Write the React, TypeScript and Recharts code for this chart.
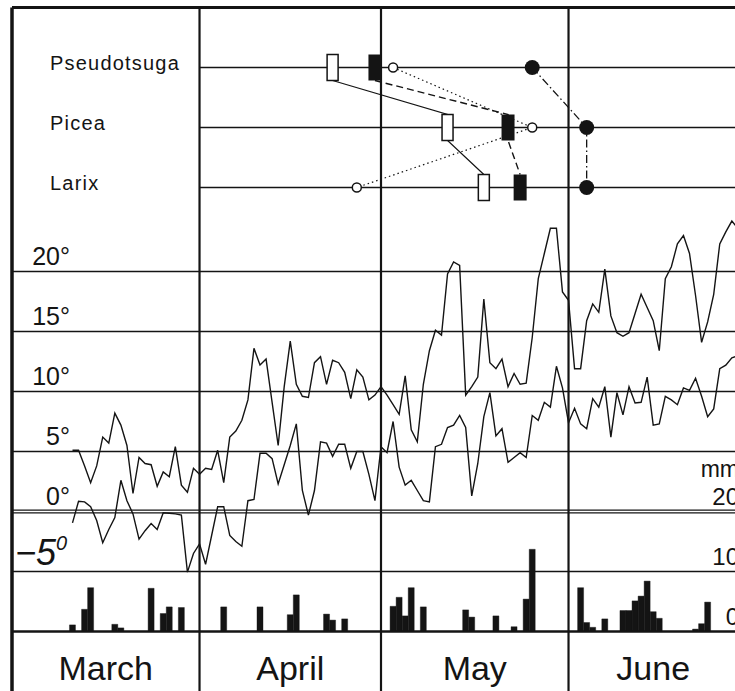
import React from 'react';
import { ComposedChart, XAxis, YAxis, Line, Bar, Scatter, ReferenceLine } from 'recharts';

const FONT = '"Liberation Sans", Arial, sans-serif';
const INK = '#141414';

// Day axis: 0 = start of 1 March, 31 = 1 April, 61 = 1 May, 92 = 1 June.
const LAST_DAY = 122;
const MONTH_NAMES = ['March', 'April', 'May', 'June'];
const MONTH_LABEL_DAYS = [15.5, 46, 76.5, 106];
const MONTH_START_DAYS = [31, 61, 92];

// Daily air temperature (°C), starting on FIRST_TEMP_DAY.
const FIRST_TEMP_DAY = 10;
const T_MAX = [
  5.1, 5.1, 3.8, 2.4, 3.8, 6.2, 5.7, 8.2, 7.2, 5.5,
  1.5, 4.5, 4.0, 3.9, 2.1, 3.3, 2.9, 5.4, 2.2, 1.6,
  3.6, 3.1, 3.6, 3.5, 5.1, 2.4, 6.2, 6.7, 7.6, 9.3,
  13.6, 12.2, 12.7, 9.1, 5.5, 10.4, 14.2, 10.6, 9.6, 9.5,
  12.4, 12.9, 10.6, 12.6, 12.4, 11.6, 9.4, 11.8, 11.2, 9.3,
  9.7, 10.4, 9.7, 8.9, 8.1, 11.3, 6.8, 5.8, 10.6, 13.4,
  15.1, 14.7, 19.8, 20.8, 20.5, 9.7, 10.4, 11.2, 17.7, 12.4,
  11.9, 12.7, 10.4, 11.5, 10.6, 10.7, 14.5, 19.4, 21.5, 23.6,
  23.6, 18.3, 17.6, 11.9, 11.9, 15.9, 17.3, 16.6, 20.2, 16.3,
  14.9, 14.6, 14.9, 16.5, 18.1, 17.0, 15.9, 13.4, 19.4, 20.4,
  22.3, 23.0, 21.5, 18.0, 14.1, 15.8, 18.1, 22.3, 23.3, 24.2,
  23.6,
];
const T_MIN = [
  -0.95, 0.85, 0.8, 0.4, -0.75, -2.6, -1.5, -0.5, 2.6, 0.9,
  -0.2, -2.3, -1.6, -1.0, -1.5, -0.1, -0.15, -0.2, -0.3, -5.05,
  -3.5, -2.7, -4.4, -2.0, 0.4, 0.4, -2.0, -2.5, -2.9, 0.9,
  1.0, 4.85, 4.85, 4.4, 2.3, 3.9, 5.5, 7.3, 1.75, -0.3,
  1.75, 5.8, 5.7, 4.6, 5.6, 5.6, 3.6, 5.0, 5.0, 3.1,
  0.9, 5.4, 4.9, 7.5, 3.7, 2.2, 2.6, 1.75, 0.9, 0.8,
  5.4, 5.6, 7.0, 7.2, 8.0, 7.0, 1.3, 4.0, 7.9, 9.9,
  6.3, 6.9, 4.1, 4.5, 4.9, 4.5, 8.0, 7.6, 9.1, 8.7,
  12.1, 10.3, 7.4, 8.6, 7.3, 6.9, 9.4, 8.7, 10.4, 6.2,
  9.9, 8.05, 10.4, 9.05, 9.1, 11.2, 7.2, 7.3, 9.6, 9.3,
  8.9, 10.3, 10.1, 11.1, 9.6, 7.9, 8.55, 11.9, 12.2, 12.8,
  13.0,
];

// Daily precipitation (mm) on the days it fell.
const RAIN_DAYS = [10, 12, 13, 17, 18, 23, 25, 26, 28, 35, 41, 46, 47, 52, 53, 55,
  63, 64, 65, 66, 68, 75, 76, 80, 83, 85, 86,
  94, 95, 96, 98, 101, 102, 103, 104, 105, 106, 107, 113, 114, 115];
const RAIN_MM = [1.1, 3.7, 7.3, 1.2, 0.6, 7.2, 3.0, 4.1, 4.0, 4.1, 4.1, 2.8, 6.1, 2.9, 1.9, 2.1,
  4.2, 5.7, 2.6, 7.3, 4.1, 3.6, 2.4, 2.6, 0.8, 5.4, 13.7,
  7.3, 1.5, 0.7, 2.1, 3.5, 3.5, 5.1, 5.9, 8.4, 3.3, 2.2, 0.4, 1.3, 4.9];

const TEMP_TICKS = [-5, 0, 5, 10, 15, 20];
const RAIN_TICKS = [0, 10, 20];

// Phenology rows (0 = bottom row) and the day each stage was reached.
const SPECIES = ['Larix', 'Picea', 'Pseudotsuga'];
const SPECIES_ROWS = [0, 1, 2];
const OPEN_BAR_DAYS = [78, 72, 53];
const SOLID_BAR_DAYS = [84, 82, 60];
const OPEN_DOT_DAYS = [57, 86, 63];
const SOLID_DOT_DAYS = [95, 95, 86];
const ROW_LINE_START = 31;

// Geometry of the drawing.
const WIDTH = 760;
const HEIGHT = 692;
const MARGIN = { top: 7.5, right: 10, bottom: 0.5, left: 12 };
const ROW_PX = 60;
const BAR_H = 26;
const RECT_HALF = BAR_H / 2 / ROW_PX;

const chartRows = Array.from({ length: LAST_DAY + 1 }, (_, d) => {
  const i = d - FIRST_TEMP_DAY;
  const r = RAIN_DAYS.indexOf(d);
  return {
    d,
    tmax: i >= 0 && i < T_MAX.length ? T_MAX[i] : null,
    tmin: i >= 0 && i < T_MIN.length ? T_MIN[i] : null,
    rain: r >= 0 ? RAIN_MM[r] : null,
  };
});

const stagePoints = (days: number[]) => days.map((d, i) => ({ d, r: SPECIES_ROWS[i] }));

// Links between rectangles run from the lower edge of one to the upper edge of the next.
const rectLink = (days: number[]) => [
  { d: days[2], r: 2 - RECT_HALF },
  { d: days[1], r: 1 + RECT_HALF },
  { d: days[1], r: 1 - RECT_HALF },
  { d: days[0], r: 0 + RECT_HALF },
];
const dotLink = (days: number[]) => [
  { d: days[2], r: 2 },
  { d: days[1], r: 1 },
  { d: days[0], r: 0 },
];

const NoMark = () => <g />;
const OpenBar = (p: any) => (
  <rect x={p.cx - 5.5} y={p.cy - BAR_H / 2} width={11} height={BAR_H} fill="#fff" stroke={INK} strokeWidth={1.5} />
);
const SolidBar = (p: any) => (
  <rect x={p.cx - 6.5} y={p.cy - BAR_H / 2} width={13} height={BAR_H} fill={INK} />
);
const OpenDot = (p: any) => <circle cx={p.cx} cy={p.cy} r={4.5} fill="#fff" stroke={INK} strokeWidth={1.5} />;
const SolidDot = (p: any) => <circle cx={p.cx} cy={p.cy} r={7.5} fill={INK} />;

const MonthTick = (p: any) => (
  <text x={p.x} y={HEIGHT - 12} textAnchor="middle" fontSize={34} fontFamily={FONT} fill={INK}>
    {MONTH_NAMES[MONTH_LABEL_DAYS.indexOf(p.payload.value)]}
  </text>
);

const TempTick = (p: any) => {
  const v = p.payload.value;
  if (v === -5) {
    return (
      <text x={15} y={p.y - 6.5} fontSize={36} fontStyle="italic" fontFamily={FONT} fill={INK}>
        {'\u22125'}
        <tspan dy={-15} fontSize={20}>0</tspan>
      </text>
    );
  }
  return (
    <text x={70} y={p.y - 7} textAnchor="end" fontSize={25} fontFamily={FONT} fill={INK}>
      {`${v}\u00b0`}
    </text>
  );
};

const RainTick = (p: any) => (
  <g>
    {p.payload.value === 20 && (
      <text x={739} y={p.y - 34.5} textAnchor="end" fontSize={23} fontFamily={FONT} fill={INK}>mm</text>
    )}
    <text x={739} y={p.y - 6.5} textAnchor="end" fontSize={24} fontFamily={FONT} fill={INK}>
      {p.payload.value}
    </text>
  </g>
);

const SpeciesTick = (p: any) => (
  <text x={50} y={p.y + 2} fontSize={20} letterSpacing={1.2} fontFamily={FONT} fill={INK}>
    {SPECIES[p.payload.value]}
  </text>
);

export default function App() {
  return (
    <div style={{ position: 'absolute', left: 0, top: 0, width: 735, height: 691, overflow: 'hidden', background: '#fff' }}>
      <ComposedChart width={WIDTH} height={HEIGHT} data={chartRows} margin={MARGIN} barCategoryGap={0} barGap={0}>
        <XAxis xAxisId="day" dataKey="d" type="number" domain={[0, LAST_DAY]} allowDataOverflow
          ticks={MONTH_LABEL_DAYS} interval={0} mirror axisLine={false} tickLine={false} tick={MonthTick} />
        <XAxis xAxisId="pheno" dataKey="d" type="number" domain={[0, LAST_DAY]} allowDataOverflow hide />
        <YAxis yAxisId="temp" type="number" domain={[-15, 42]} allowDataOverflow width={60} mirror
          ticks={TEMP_TICKS} interval={0} axisLine={false} tickLine={false} tick={TempTick} />
        <YAxis yAxisId="rain" orientation="right" type="number" domain={[-10, 104]} allowDataOverflow width={60} mirror
          ticks={RAIN_TICKS} interval={0} axisLine={false} tickLine={false} tick={RainTick} />
        <YAxis yAxisId="row" dataKey="r" type="number" domain={[-8.4, 3]} allowDataOverflow width={60} mirror
          ticks={SPECIES_ROWS} interval={0} axisLine={false} tickLine={false} tick={SpeciesTick} />

        {/* frame */}
        <ReferenceLine xAxisId="day" yAxisId="temp" y={42} stroke={INK} strokeWidth={3} />
        <ReferenceLine xAxisId="day" yAxisId="temp" x={0} stroke={INK} strokeWidth={3.5} />
        {MONTH_START_DAYS.map((d) => (
          <ReferenceLine key={`m${d}`} xAxisId="day" yAxisId="temp" x={d} stroke={INK} strokeWidth={2.2} />
        ))}

        {/* temperature grid; the freezing line is doubled */}
        {[20, 15, 10, 5, -5].map((t) => (
          <ReferenceLine key={`t${t}`} xAxisId="day" yAxisId="temp" y={t} stroke={INK} strokeWidth={1.6} />
        ))}
        <ReferenceLine xAxisId="day" yAxisId="temp" y={0.115} stroke={INK} strokeWidth={1.2} />
        <ReferenceLine xAxisId="day" yAxisId="temp" y={-0.115} stroke={INK} strokeWidth={1.2} />
        <ReferenceLine xAxisId="day" yAxisId="rain" y={0} stroke={INK} strokeWidth={2.6} />

        <Bar xAxisId="day" yAxisId="rain" dataKey="rain" fill={INK} stroke={INK} strokeWidth={0.4} isAnimationActive={false} />
        <Line xAxisId="day" yAxisId="temp" dataKey="tmax" type="linear" stroke={INK} strokeWidth={1.4}
          dot={false} activeDot={false} isAnimationActive={false} />
        <Line xAxisId="day" yAxisId="temp" dataKey="tmin" type="linear" stroke={INK} strokeWidth={1.4}
          dot={false} activeDot={false} isAnimationActive={false} />

        {/* phenology rows */}
        {SPECIES_ROWS.map((r) => (
          <Scatter key={`row${r}`} xAxisId="pheno" yAxisId="row" isAnimationActive={false}
            data={[{ d: ROW_LINE_START, r }, { d: LAST_DAY, r }]} shape={NoMark}
            line={{ stroke: INK, strokeWidth: 1.5 }} />
        ))}
        <Scatter xAxisId="pheno" yAxisId="row" isAnimationActive={false} data={rectLink(OPEN_BAR_DAYS)}
          shape={NoMark} line={{ stroke: INK, strokeWidth: 1.2 }} />
        <Scatter xAxisId="pheno" yAxisId="row" isAnimationActive={false} data={rectLink(SOLID_BAR_DAYS)}
          shape={NoMark} line={{ stroke: INK, strokeWidth: 1.4, strokeDasharray: '7 4' }} />
        <Scatter xAxisId="pheno" yAxisId="row" isAnimationActive={false} data={dotLink(OPEN_DOT_DAYS)}
          shape={NoMark} line={{ stroke: INK, strokeWidth: 1.2, strokeDasharray: '1.5 3' }} />
        <Scatter xAxisId="pheno" yAxisId="row" isAnimationActive={false} data={dotLink(SOLID_DOT_DAYS)}
          shape={NoMark} line={{ stroke: INK, strokeWidth: 1.3, strokeDasharray: '8 3 1.5 3' }} />

        <Scatter xAxisId="pheno" yAxisId="row" isAnimationActive={false} data={stagePoints(OPEN_BAR_DAYS)} shape={OpenBar} />
        <Scatter xAxisId="pheno" yAxisId="row" isAnimationActive={false} data={stagePoints(SOLID_BAR_DAYS)} shape={SolidBar} />
        <Scatter xAxisId="pheno" yAxisId="row" isAnimationActive={false} data={stagePoints(OPEN_DOT_DAYS)} shape={OpenDot} />
        <Scatter xAxisId="pheno" yAxisId="row" isAnimationActive={false} data={stagePoints(SOLID_DOT_DAYS)} shape={SolidDot} />
      </ComposedChart>
    </div>
  );
}
